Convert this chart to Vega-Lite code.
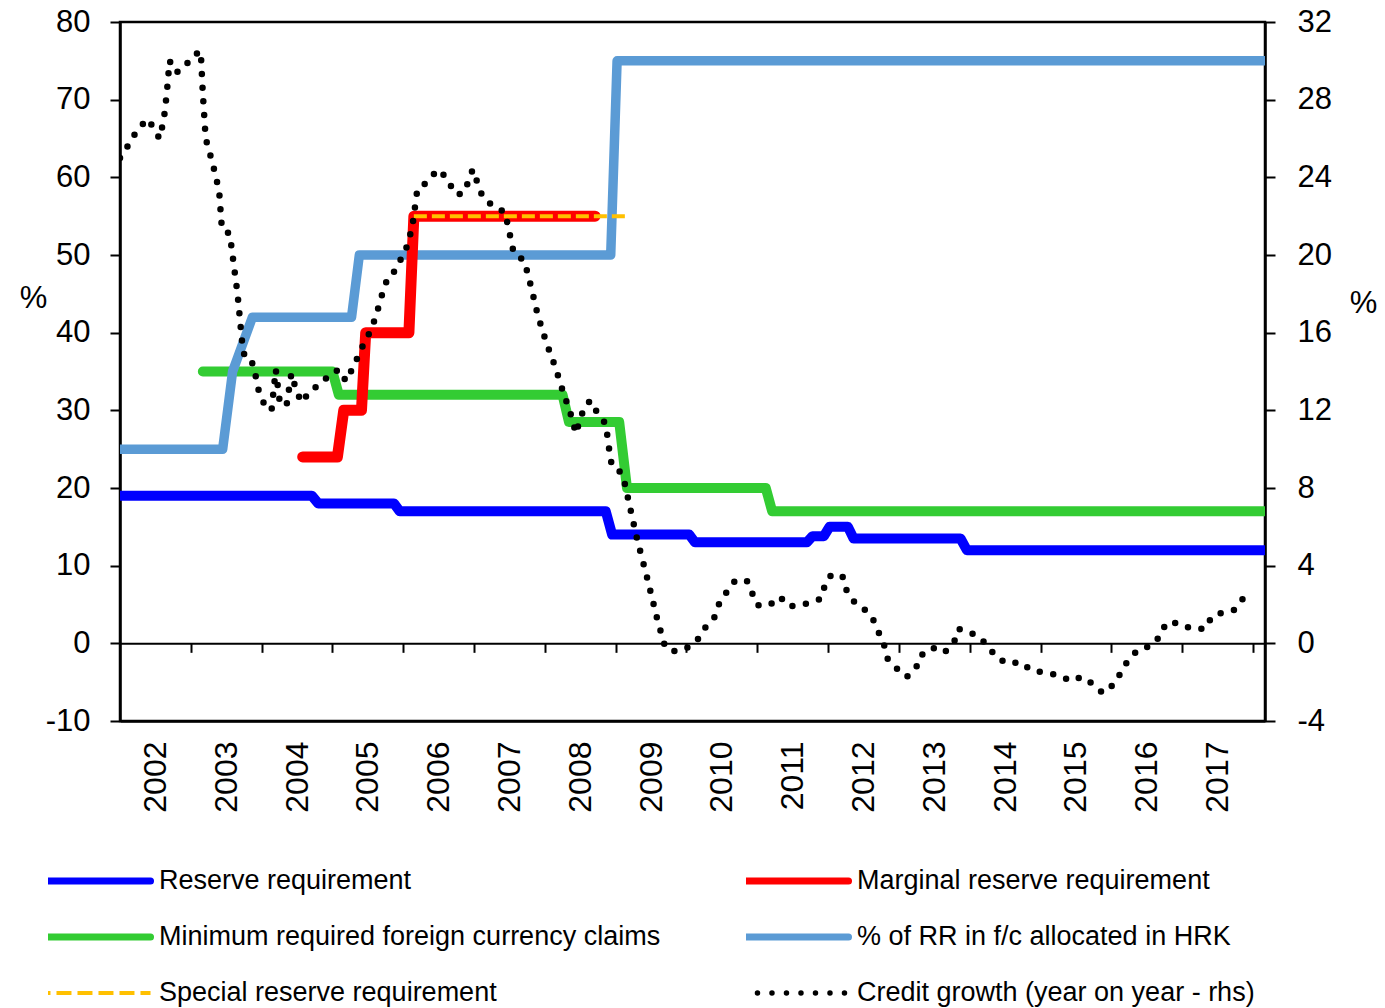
{
  "$schema": "https://vega.github.io/schema/vega-lite/v6.json",
  "width": 1145,
  "height": 699,
  "autosize": {"type": "none"},
  "padding": {"left": 120, "top": 22, "right": 120, "bottom": 287},
  "background": "white",
  "config": {
    "view": {"stroke": "#000000", "strokeWidth": 2.5},
    "font": "Liberation Sans",
    "axis": {
      "labelFont": "Liberation Sans",
      "labelFontSize": 31,
      "labelColor": "#000000",
      "titleFont": "Liberation Sans",
      "titleFontSize": 31,
      "titleFontWeight": "normal",
      "titleColor": "#000000",
      "tickColor": "#000000",
      "tickWidth": 2,
      "tickSize": 10,
      "domainColor": "#000000",
      "domainWidth": 2.5,
      "grid": false,
      "zindex": 1
    }
  },
  "datasets": {
    "bands": [{"x": 2003.04, "x2": 2004.05}, {"x": 2007.05, "x2": 2010.0}],
    "reserve": [
      {"x": 2002.0, "y": 19}, {"x": 2004.71, "y": 19}, {"x": 2004.8, "y": 18}, {"x": 2005.87, "y": 18},
      {"x": 2005.95, "y": 17}, {"x": 2008.86, "y": 17}, {"x": 2008.95, "y": 14}, {"x": 2010.04, "y": 14},
      {"x": 2010.12, "y": 13}, {"x": 2011.7, "y": 13}, {"x": 2011.78, "y": 13.8}, {"x": 2011.94, "y": 13.8},
      {"x": 2012.02, "y": 15}, {"x": 2012.28, "y": 15}, {"x": 2012.36, "y": 13.5}, {"x": 2013.87, "y": 13.5},
      {"x": 2013.96, "y": 12}, {"x": 2018.17, "y": 12}
    ],
    "minimum": [
      {"x": 2003.17, "y": 35}, {"x": 2005.0, "y": 35}, {"x": 2005.09, "y": 32}, {"x": 2008.25, "y": 32},
      {"x": 2008.34, "y": 28.5}, {"x": 2009.05, "y": 28.5}, {"x": 2009.16, "y": 20}, {"x": 2011.12, "y": 20},
      {"x": 2011.21, "y": 17}, {"x": 2018.17, "y": 17}
    ],
    "hrk": [
      {"x": 2002.0, "y": 25}, {"x": 2003.45, "y": 25}, {"x": 2003.59, "y": 35}, {"x": 2003.87, "y": 42},
      {"x": 2005.27, "y": 42}, {"x": 2005.38, "y": 50}, {"x": 2008.93, "y": 50}, {"x": 2009.02, "y": 75},
      {"x": 2018.17, "y": 75}
    ],
    "marginal": [
      {"x": 2004.58, "y": 24}, {"x": 2005.07, "y": 24}, {"x": 2005.16, "y": 30}, {"x": 2005.41, "y": 30},
      {"x": 2005.47, "y": 40}, {"x": 2006.08, "y": 40}, {"x": 2006.15, "y": 55}, {"x": 2008.71, "y": 55}
    ],
    "special": [{"x": 2006.15, "y": 55}, {"x": 2009.14, "y": 55}],
    "credit": [
      {"x": 2002.0, "y": 25.0}, {"x": 2002.16, "y": 25.9}, {"x": 2002.25, "y": 26.5}, {"x": 2002.4, "y": 27.0},
      {"x": 2002.49, "y": 26.4}, {"x": 2002.56, "y": 26.0}, {"x": 2002.62, "y": 27.0}, {"x": 2002.66, "y": 28.3},
      {"x": 2002.7, "y": 30.0}, {"x": 2002.79, "y": 29.4}, {"x": 2002.9, "y": 29.6}, {"x": 2003.01, "y": 30.2},
      {"x": 2003.14, "y": 30.5}, {"x": 2003.17, "y": 28.3}, {"x": 2003.21, "y": 26.0}, {"x": 2003.31, "y": 24.7},
      {"x": 2003.4, "y": 23.3}, {"x": 2003.44, "y": 21.3}, {"x": 2003.55, "y": 21.1}, {"x": 2003.66, "y": 18.0},
      {"x": 2003.73, "y": 15.3}, {"x": 2003.77, "y": 14.6}, {"x": 2003.88, "y": 14.4}, {"x": 2003.96, "y": 13.0},
      {"x": 2004.05, "y": 12.2}, {"x": 2004.14, "y": 12.0}, {"x": 2004.2, "y": 14.1}, {"x": 2004.25, "y": 12.6},
      {"x": 2004.35, "y": 12.2}, {"x": 2004.42, "y": 13.9}, {"x": 2004.5, "y": 12.9}, {"x": 2004.57, "y": 12.4},
      {"x": 2004.68, "y": 13.0}, {"x": 2004.85, "y": 13.4}, {"x": 2004.97, "y": 13.9}, {"x": 2005.1, "y": 14.1},
      {"x": 2005.19, "y": 13.5}, {"x": 2005.29, "y": 14.2}, {"x": 2005.45, "y": 15.5}, {"x": 2005.54, "y": 16.1},
      {"x": 2005.61, "y": 16.8}, {"x": 2005.72, "y": 18.2}, {"x": 2005.79, "y": 18.9}, {"x": 2005.89, "y": 19.2},
      {"x": 2006.06, "y": 20.5}, {"x": 2006.13, "y": 21.5}, {"x": 2006.2, "y": 23.4}, {"x": 2006.36, "y": 23.8},
      {"x": 2006.48, "y": 24.4}, {"x": 2006.58, "y": 24.1}, {"x": 2006.75, "y": 23.1}, {"x": 2006.86, "y": 23.2},
      {"x": 2006.98, "y": 24.4}, {"x": 2007.12, "y": 23.0}, {"x": 2007.27, "y": 22.5}, {"x": 2007.44, "y": 22.2},
      {"x": 2007.56, "y": 20.1}, {"x": 2007.71, "y": 19.7}, {"x": 2007.81, "y": 18.3}, {"x": 2007.9, "y": 16.9},
      {"x": 2008.02, "y": 15.5}, {"x": 2008.15, "y": 14.2}, {"x": 2008.27, "y": 12.8}, {"x": 2008.35, "y": 12.0},
      {"x": 2008.44, "y": 10.8}, {"x": 2008.5, "y": 11.6}, {"x": 2008.58, "y": 12.3}, {"x": 2008.65, "y": 12.5},
      {"x": 2008.75, "y": 11.8}, {"x": 2008.86, "y": 11.3}, {"x": 2008.93, "y": 9.4}, {"x": 2008.98, "y": 9.0},
      {"x": 2009.05, "y": 8.9}, {"x": 2009.13, "y": 8.2}, {"x": 2009.3, "y": 5.4}, {"x": 2009.45, "y": 3.3},
      {"x": 2009.59, "y": 1.2}, {"x": 2009.7, "y": -0.2}, {"x": 2009.82, "y": -0.4}, {"x": 2009.98, "y": -0.3},
      {"x": 2010.15, "y": 0.15}, {"x": 2010.25, "y": 0.75}, {"x": 2010.39, "y": 1.3}, {"x": 2010.45, "y": 1.96},
      {"x": 2010.56, "y": 2.6}, {"x": 2010.68, "y": 3.2}, {"x": 2010.85, "y": 3.25}, {"x": 2010.92, "y": 2.65},
      {"x": 2011.0, "y": 1.96}, {"x": 2011.17, "y": 1.96}, {"x": 2011.32, "y": 2.4}, {"x": 2011.45, "y": 1.9},
      {"x": 2011.6, "y": 1.96}, {"x": 2011.78, "y": 2.13}, {"x": 2011.9, "y": 2.3}, {"x": 2011.97, "y": 3.2},
      {"x": 2012.04, "y": 3.5}, {"x": 2012.2, "y": 3.5}, {"x": 2012.25, "y": 2.8}, {"x": 2012.35, "y": 2.2},
      {"x": 2012.5, "y": 1.8}, {"x": 2012.63, "y": 1.27}, {"x": 2012.79, "y": -0.07}, {"x": 2012.84, "y": -0.79},
      {"x": 2012.97, "y": -1.3}, {"x": 2013.11, "y": -1.73}, {"x": 2013.24, "y": -1.3}, {"x": 2013.3, "y": -0.65},
      {"x": 2013.47, "y": -0.22}, {"x": 2013.64, "y": -0.48}, {"x": 2013.78, "y": 0.07}, {"x": 2013.84, "y": 0.75},
      {"x": 2013.96, "y": 0.62}, {"x": 2014.14, "y": 0.33}, {"x": 2014.27, "y": -0.22}, {"x": 2014.39, "y": -0.76},
      {"x": 2014.55, "y": -1.05}, {"x": 2014.71, "y": -0.96}, {"x": 2014.88, "y": -1.42}, {"x": 2015.07, "y": -1.5},
      {"x": 2015.28, "y": -1.68}, {"x": 2015.43, "y": -1.94}, {"x": 2015.58, "y": -1.73}, {"x": 2015.74, "y": -2.1},
      {"x": 2015.88, "y": -2.56}, {"x": 2016.04, "y": -2.1}, {"x": 2016.24, "y": -0.84}, {"x": 2016.38, "y": -0.33},
      {"x": 2016.56, "y": -0.13}, {"x": 2016.7, "y": 0.41}, {"x": 2016.77, "y": 1.05}, {"x": 2016.94, "y": 1.05},
      {"x": 2017.13, "y": 0.75}, {"x": 2017.33, "y": 0.75}, {"x": 2017.42, "y": 1.39}, {"x": 2017.55, "y": 1.56},
      {"x": 2017.74, "y": 1.73}, {"x": 2017.84, "y": 2.21}, {"x": 2017.97, "y": 2.81}
    ]
  },
  "layer": [
    {
      "encoding": {
        "x": {
          "field": "x", "type": "quantitative",
          "scale": {"domain": [2002, 2018.17], "nice": false, "zero": false},
          "axis": {
            "orient": "bottom", "title": null,
            "values": [2002.5, 2003.5, 2004.5, 2005.5, 2006.5, 2007.5, 2008.5, 2009.5, 2010.5, 2011.5, 2012.5, 2013.5, 2014.5, 2015.5, 2016.5, 2017.5],
            "labelExpr": "floor(datum.value)",
            "labelAngle": 270, "labelFontSize": 32, "labelPadding": 20,
            "ticks": false, "tickSize": 0, "domain": true,
            "labelOverlap": false, "labelFlush": false
          }
        },
        "y": {
          "field": "y", "type": "quantitative",
          "scale": {"domain": [-10, 80], "nice": false, "zero": false},
          "axis": {
            "orient": "left", "values": [-10, 0, 10, 20, 30, 40, 50, 60, 70, 80],
            "labelExpr": "toString(datum.value)",
            "labelPadding": 20, "title": "%", "titleAngle": 0, "titleX": -87, "titleY": 276,
            "titleAlign": "center", "titleBaseline": "middle"
          }
        }
      },
      "layer": [
        {
          "data": {"name": "bands"},
          "mark": {"type": "rect", "color": "#E1E1E1"},
          "encoding": {
            "x2": {"field": "x2"},
            "y": {
              "datum": 80, "type": "quantitative",
              "scale": {"domain": [-10, 80], "nice": false, "zero": false},
              "axis": {
                "orient": "left", "values": [-10, 0, 10, 20, 30, 40, 50, 60, 70, 80],
                "labelExpr": "toString(datum.value)",
                "labelPadding": 20, "title": "%", "titleAngle": 0, "titleX": -87, "titleY": 276,
                "titleAlign": "center", "titleBaseline": "middle"
              }
            },
            "y2": {"datum": -10}
          }
        },
        {
          "data": {"name": "reserve"},
          "mark": {"type": "line", "strokeWidth": 10, "strokeCap": "round", "strokeJoin": "round", "clip": true},
          "encoding": {"color": {"datum": "Reserve requirement", "type": "nominal"}}
        },
        {
          "data": {"name": "minimum"},
          "mark": {"type": "line", "strokeWidth": 10, "strokeCap": "round", "strokeJoin": "round", "clip": true},
          "encoding": {"color": {"datum": "Minimum required foreign currency claims", "type": "nominal"}}
        },
        {
          "data": {"name": "hrk"},
          "mark": {"type": "line", "strokeWidth": 9.5, "strokeCap": "round", "strokeJoin": "round", "clip": true},
          "encoding": {"color": {"datum": "% of RR in f/c allocated in HRK", "type": "nominal"}}
        },
        {
          "data": {"name": "marginal"},
          "mark": {"type": "line", "strokeWidth": 11, "strokeCap": "round", "strokeJoin": "round", "clip": true},
          "encoding": {"color": {"datum": "Marginal reserve requirement", "type": "nominal"}}
        },
        {
          "data": {"name": "special"},
          "mark": {"type": "line", "strokeWidth": 4, "strokeDash": [13, 5], "clip": true},
          "encoding": {"color": {"datum": "Special reserve requirement", "type": "nominal"}}
        }
      ]
    },
    {
      "data": {"name": "credit"},
      "mark": {"type": "line", "strokeWidth": 6.5, "strokeDash": [0, 13.7], "strokeCap": "round", "clip": true},
      "encoding": {
        "x": {
          "field": "x", "type": "quantitative",
          "scale": {"domain": [2002, 2018.17], "nice": false, "zero": false},
          "axis": {
            "orient": "bottom", "title": null, "offset": -77.67,
            "values": [2003, 2004, 2005, 2006, 2007, 2008, 2009, 2010, 2011, 2012, 2013, 2014, 2015, 2016, 2017, 2018],
            "labels": false, "ticks": true, "tickSize": 9, "domain": true, "domainWidth": 2
          }
        },
        "y": {
          "field": "y", "type": "quantitative",
          "scale": {"domain": [-4, 32], "nice": false, "zero": false},
          "axis": {
            "orient": "right", "values": [-4, 0, 4, 8, 12, 16, 20, 24, 28, 32],
            "labelExpr": "toString(datum.value)",
            "labelPadding": 22, "title": "%", "titleAngle": 0, "titleX": 98, "titleY": 281,
            "titleAlign": "center", "titleBaseline": "middle"
          }
        },
        "color": {
          "datum": "Credit growth (year on year - rhs)", "type": "nominal",
          "scale": {
            "domain": ["Reserve requirement", "Marginal reserve requirement", "Minimum required foreign currency claims", "% of RR in f/c allocated in HRK", "Special reserve requirement", "Credit growth (year on year - rhs)"],
            "range": ["#0000FF", "#FF0000", "#33CC33", "#5B9BD5", "#FFC000", "#000000"]
          },
          "legend": {
            "title": null, "orient": "none", "legendX": -72, "legendY": 845,
            "direction": "horizontal", "columns": 2, "columnPadding": 85, "rowPadding": 28,
            "symbolType": "stroke", "symbolSize": 31700, "symbolStrokeWidth": 7,
            "labelFont": "Liberation Sans", "labelFontSize": 27, "labelColor": "#000000",
            "labelOffset": 84, "labelLimit": 800, "clipHeight": 28,
            "encode": {
              "symbols": {
                "update": {
                  "strokeDash": {"signal": "datum.value === 'Special reserve requirement' ? [15, 6] : datum.value === 'Credit growth (year on year - rhs)' ? [0, 14.5] : [1, 0]"},
                  "strokeWidth": {"signal": "datum.value === 'Special reserve requirement' ? 4 : datum.value === 'Credit growth (year on year - rhs)' ? 5.5 : 7"},
                  "strokeCap": {"signal": "datum.value === 'Special reserve requirement' ? 'butt' : 'round'"}
                }
              }
            }
          }
        }
      }
    }
  ],
  "resolve": {"scale": {"y": "independent"}, "axis": {"x": "independent", "y": "independent"}}
}
